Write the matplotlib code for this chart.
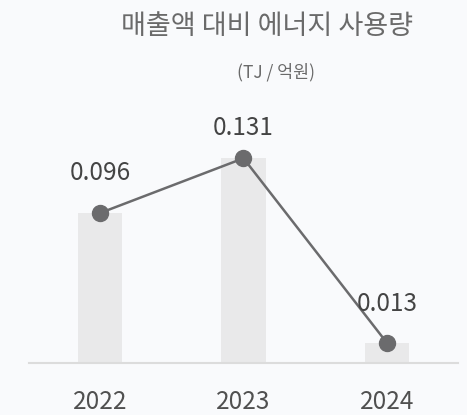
import numpy as np
import matplotlib.pyplot as plt

plt.rcParams['font.family'] = ['Noto Sans CJK KR', 'DejaVu Sans']

years = ['2022', '2023', '2024']
values = [0.096, 0.131, 0.013]
value_labels = ['0.096', '0.131', '0.013']
label_dy = [-29, -22, -28]  # 라벨 위치(pt)

bg = '#f9fafc'
fig = plt.figure(figsize=(4.67, 4.15), dpi=100, facecolor=bg)
ax = fig.add_axes([0.0621, 0.1246, 0.9186, 0.6034], facecolor=bg)

x = np.arange(len(years))
ax.bar(x, values, width=0.31, color='#e9e9ea', zorder=1)
ax.plot(x, values, color='#6b6b6d', linewidth=1.8, marker='o',
        markersize=11.5, zorder=3)

for i in range(len(x)):
    ax.annotate(value_labels[i], (x[i], values[i]), xytext=(0, -label_dy[i]),
                textcoords='offset points', ha='center', va='center',
                fontsize=17.5, color='#444444')
    ax.annotate(years[i], (x[i], 0), xytext=(0, -28),
                textcoords='offset points', ha='center', va='center',
                fontsize=17.5, color='#505050', annotation_clip=False)

ax.set_xlim(-0.495, 2.495)
ax.set_ylim(0, 0.16)
for s in ['top', 'right', 'left']:
    ax.spines[s].set_visible(False)
ax.spines['bottom'].set_color('#dcdcdc')
ax.spines['bottom'].set_linewidth(1.5)
ax.set_xticks([])
ax.set_yticks([])

fig.text(0.572, 1 - 27 / 415, '매출액 대비 에너지 사용량', ha='center', va='center',
         fontsize=19.5, color='#6a6a6a')
fig.text(0.591, 1 - 72 / 415, '(TJ / 억원)', ha='center', va='center',
         fontsize=12.5, color='#6a6a6a')

fig.savefig('out.png', dpi=100, facecolor=bg)
